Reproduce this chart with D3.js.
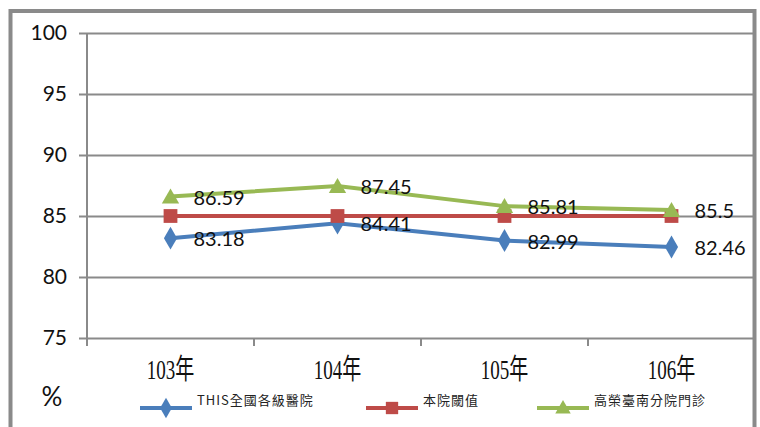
<!DOCTYPE html>
<html>
<head>
<meta charset="utf-8">
<style>
    body { margin: 0; background: #fff; }
    svg { display: block; }
    .grid line { stroke: #8a8a8a; stroke-width: 2; }
    .y .tick text { font-family: "Liberation Sans Narrow", "Lato", sans-serif; font-size: 21px; fill: #111; }
    .x .tick text { font-family: "Liberation Serif", "Noto Sans CJK TC", serif; font-size: 28px; fill: #111; }
    .val { font-family: "Liberation Sans Narrow", "Lato", sans-serif; font-size: 20px; fill: #111; }
    .leg { font-family: "Noto Sans CJK TC", serif; font-size: 13px; fill: #222; letter-spacing: 1px; }
</style>
</head>
<body>
<svg width="760" height="427"></svg>
<script src="https://d3js.org/d3.v7.min.js"></script>
<script>
// data
let years = ["103年", "104年", "105年", "106年"]
let this_all = [83.18, 84.41, 82.99, 82.46]
let threshold = [85, 85, 85, 85]
let tainan = [86.59, 87.45, 85.81, 85.5]
let y_ticks = [75, 80, 85, 90, 95, 100]

let series = [
    { name: "THIS全國各級醫院", values: this_all, color: "#4a7ebb", marker: "diamond", labels: true },
    { name: "本院閾值", values: threshold, color: "#be4b48", marker: "square", labels: false },
    { name: "高榮臺南分院門診", values: tainan, color: "#98b954", marker: "triangle", labels: true }
]

let symbols = { diamond: d3.symbolDiamond, square: d3.symbolSquare, triangle: d3.symbolTriangle }
let sizes = { diamond: 150, square: 190, triangle: 130 }

let svg = d3.select("svg")

let pLeft = 87, pRight = 755, pTop = 33, pBottom = 338

let x = d3.scaleBand().domain(years).range([pLeft, pRight]).padding(0)
let y = d3.scaleLinear().domain([75, 100]).range([pBottom, pTop])

// outer frame
svg.append("rect")
    .attr("x", 10.5).attr("y", 11)
    .attr("width", 744).attr("height", 430)
    .attr("fill", "none")
    .attr("stroke", "#8a8a8a")
    .attr("stroke-width", 4)

// horizontal grid + y axis ticks
let yAxis = svg.append("g")
    .attr("class", "y grid")
    .attr("transform", `translate(${pLeft},0)`)
    .call(d3.axisLeft(y).tickValues(y_ticks).tickSize(8).tickPadding(12).tickFormat(d3.format("d")))
yAxis.select(".domain").remove()
yAxis.selectAll(".tick line").attr("x1", pRight - pLeft).attr("x2", -8)

// y axis line
svg.append("line")
    .attr("x1", pLeft).attr("x2", pLeft)
    .attr("y1", pTop).attr("y2", pBottom + 8)
    .attr("stroke", "#8a8a8a").attr("stroke-width", 2)

// x axis tick marks at band edges
svg.append("g").attr("class", "grid")
    .selectAll("line")
    .data(years.slice(1))
    .join("line")
    .attr("x1", d => x(d)).attr("x2", d => x(d))
    .attr("y1", pBottom).attr("y2", pBottom + 8)

let xAxis = svg.append("g")
    .attr("class", "x")
    .attr("transform", `translate(0,${pBottom})`)
    .call(d3.axisBottom(x).tickSize(0).tickPadding(0))
xAxis.select(".domain").remove()
xAxis.selectAll(".tick text")
    .attr("y", 0)
    .attr("dy", 0)
    .attr("transform", "translate(0,41) scale(0.68,1)")

let line = d3.line()
    .x((d, i) => x(years[i]) + x.bandwidth() / 2)
    .y(d => y(d))

series.forEach(s => {
    let g = svg.append("g")
    g.append("path")
        .attr("d", line(s.values))
        .attr("fill", "none")
        .attr("stroke", s.color)
        .attr("stroke-width", 4)
    g.selectAll("path.m")
        .data(s.values)
        .join("path")
        .attr("class", "m")
        .attr("transform", (d, i) => `translate(${x(years[i]) + x.bandwidth() / 2},${y(d) + (s.marker == "triangle" ? 2 : 0)})`)
        .attr("d", d3.symbol().type(symbols[s.marker]).size(sizes[s.marker]))
        .attr("fill", s.color)
})

// value labels on top
series.filter(s => s.labels).forEach(s => {
    svg.append("g")
        .selectAll("text")
        .data(s.values)
        .join("text")
        .attr("class", "val")
        .attr("x", (d, i) => x(years[i]) + x.bandwidth() / 2 + 23)
        .attr("y", d => y(d) + 8)
        .text(d => d)
})

// % unit
svg.append("text")
    .attr("x", 52).attr("y", 406)
    .attr("text-anchor", "middle")
    .style("font-family", "Liberation Sans Narrow, Lato, sans-serif")
    .style("font-size", "26px")
    .style("fill", "#111")
    .text("%")

// legend
let legX = [140, 366, 537]
let legend = svg.append("g")
    .selectAll("g")
    .data(series)
    .join("g")
    .attr("transform", (d, i) => `translate(${legX[i]},408)`)

legend.append("line")
    .attr("x1", 0).attr("x2", 52)
    .attr("stroke", d => d.color)
    .attr("stroke-width", 4)
legend.append("path")
    .attr("transform", d => `translate(26,${d.marker == "triangle" ? 1 : 0})`)
    .attr("d", d => d3.symbol().type(symbols[d.marker]).size(sizes[d.marker] * 0.8)())
    .attr("fill", d => d.color)
legend.append("text")
    .attr("class", "leg")
    .attr("x", 57)
    .attr("y", -3)
    .text(d => d.name)
</script>
</body>
</html>
